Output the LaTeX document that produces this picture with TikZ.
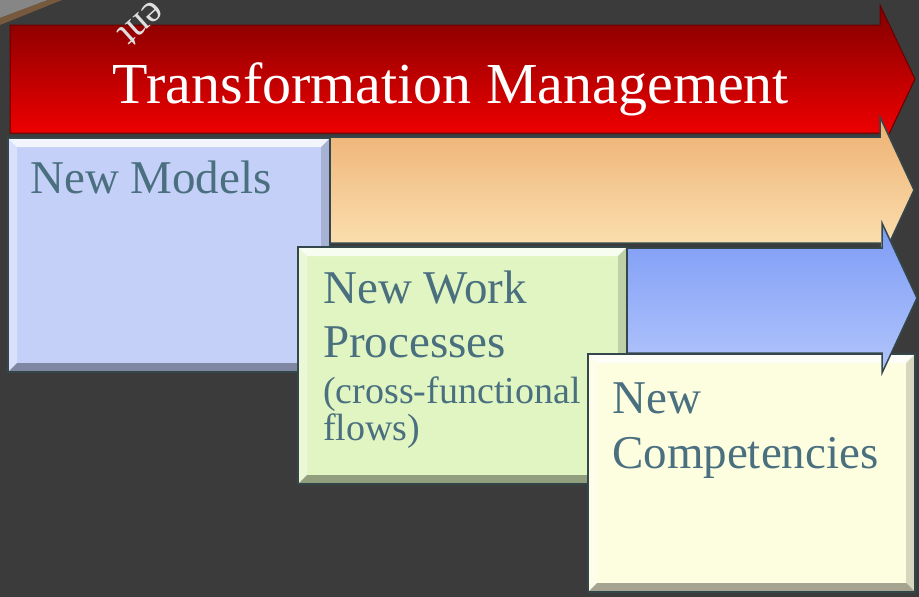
\documentclass[tikz,border=0pt]{standalone}
\usepackage{fontspec}
\setmainfont{Liberation Serif}
\usetikzlibrary{calc,positioning}
\definecolor{slide}{HTML}{3B3B3B}
\definecolor{rim}{HTML}{34484C}
\definecolor{ink}{HTML}{4A7080}
\definecolor{lav}{HTML}{C5D0F9}
\definecolor{mint}{HTML}{E0F5C2}
\definecolor{cream}{HTML}{FDFDE0}
\tikzset{
    panel/.style={draw=rim, line width=2.5pt, anchor=north west, inner sep=0pt, outer sep=0pt},
    big/.style={text=ink, anchor=base west, inner sep=0pt, font=\fontsize{47}{54}\selectfont},
    small/.style={big, font=\fontsize{38}{38}\selectfont}
}
\newcommand{\bevel}[1]{
    \fill[white, opacity=.8] ($(#1.north west)+(1,-1)$) -- ($(#1.north east)+(-1,-1)$) -- ($(#1.north east)+(-9,-9)$) -- ($(#1.north west)+(9,-9)$) -- cycle;
    \fill[white, opacity=.35] ($(#1.north west)+(1,-1)$) -- ($(#1.north west)+(9,-9)$) -- ($(#1.south west)+(9,9)$) -- ($(#1.south west)+(1,1)$) -- cycle;
    \fill[black, opacity=.15] ($(#1.north east)+(-1,-1)$) -- ($(#1.north east)+(-9,-9)$) -- ($(#1.south east)+(-9,9)$) -- ($(#1.south east)+(-1,1)$) -- cycle;
    \fill[black, opacity=.35] ($(#1.south west)+(1,1)$) -- ($(#1.south east)+(-1,1)$) -- ($(#1.south east)+(-9,9)$) -- ($(#1.south west)+(9,9)$) -- cycle;
}

\begin{document}
\begin{tikzpicture}[x=1pt, y=1pt]
                        \useasboundingbox (0, 0) rectangle (919, -597);
                        \fill[slide] (0, 0) rectangle (919, -597);

                        % corner of the slide behind
                        \fill[gray!95!white] (0, 0) -- (48, 0) -- (0, -18) -- cycle;
                        \fill[brown!45!slide] (48, 0) -- (62, 0) -- (0, -25) -- (0, -18) -- cycle;

                        % arrows
                        \shade[top color=red!50!black, bottom color=red, draw=red!40!black, line width=1pt]
                        (10, -25) -- (880, -25) -- (880, -5) -- (915, -79) -- (880, -153) -- (880, -133) -- (10, -133) -- cycle;
                        \node[rotate=-138, text=gray!25, font=\fontsize{40}{40}\selectfont] (cut) at (142, -24) {ent};
                        \node[text=white, anchor=base, font=\fontsize{58}{58}\selectfont] (title) at (451, -103) {Transformation Management};

                        \shade[top color={rgb,255:red,237;green,176;blue,113}, bottom color={rgb,255:red,253;green,229;blue,184}, draw=rim, line width=1.5pt]
                        (320, -137) -- (880, -137) -- (880, -117) -- (914, -190) -- (880, -263) -- (880, -243) -- (320, -243) -- cycle;

                        % boxes
                        \node[panel, fill=lav, minimum width=322, minimum height=234] (models) at (8, -138) {};
                        \bevel{models}
                        \node[big] (modelsTxt) at ($(models.north west) + (22, -55)$) {New Models};

                        \node[panel, fill=mint, minimum width=329, minimum height=237] (work) at (298, -247) {};
                        \bevel{work}
                        \node[big] (workA) at ($(work.north west) + (25, -56)$) {New Work};
                        \node[big] (workB) at ($(work.north west) + (25, -110)$) {Processes};
                        \node[small] (workC) at ($(work.north west) + (25, -156)$) {(cross-functional};
                        \node[small] (workD) at ($(work.north west) + (25, -193)$) {flows)};

                        \node[panel, fill=cream, minimum width=327, minimum height=238] (comp) at (588, -354) {};
                        \bevel{comp}
                        \node[big] (compA) at ($(comp.north west) + (24, -59)$) {New};
                        \node[big] (compB) at ($(comp.north west) + (24, -114)$) {Competencies};

                        \shade[top color={rgb,255:red,124;green,155;blue,245}, bottom color={rgb,255:red,178;green,197;blue,251}, draw=rim, line width=1.5pt]
                        (627, -248) -- (882, -248) -- (882, -223) -- (917, -298) -- (882, -373) -- (882, -353) -- (627, -353) -- cycle;
                    \end{tikzpicture}
\end{document}
